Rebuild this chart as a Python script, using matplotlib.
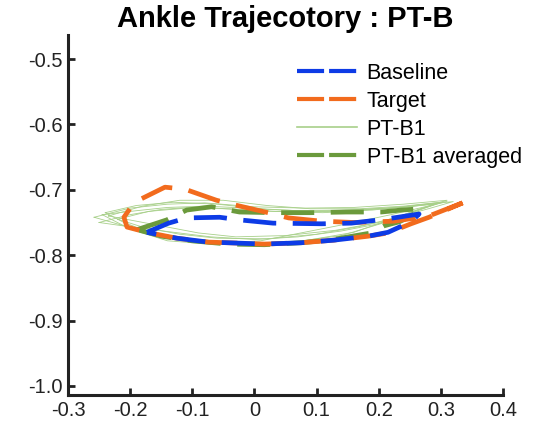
import matplotlib
matplotlib.use("Agg")
from matplotlib import pyplot as plt
from matplotlib.lines import Line2D

plt.rcParams["font.family"] = ["Liberation Sans", "DejaVu Sans"]

# baseline loop (closed)
base_x = [-0.173, -0.138, -0.109, -0.056, -0.024, 0.030, 0.108, 0.156, 0.201, 0.231, 0.265,
          0.252, 0.215, 0.183, 0.128, 0.075, 0.016, -0.042, -0.074, -0.125, -0.173]
base_y = [-0.765, -0.751, -0.743, -0.742, -0.746, -0.751, -0.752, -0.751, -0.746, -0.742, -0.737,
          -0.749, -0.765, -0.771, -0.777, -0.781, -0.783, -0.781, -0.780, -0.774, -0.765]

# target loop
targ_x = [0.335, 0.281, 0.225, 0.160, 0.108, 0.055, 0.022, -0.032, -0.061, -0.112, -0.144, -0.193,
          -0.210, -0.205, -0.173, -0.125, -0.074, -0.042, 0.016, 0.075, 0.128, 0.183, 0.215, 0.252, 0.281, 0.335]
targ_y = [-0.720, -0.740, -0.748, -0.750, -0.748, -0.743, -0.735, -0.723, -0.716, -0.699, -0.696, -0.719,
          -0.742, -0.757, -0.765, -0.774, -0.780, -0.781, -0.783, -0.781, -0.777, -0.771, -0.766, -0.752, -0.742, -0.720]

# PT-B1 averaged loop
avg_x = [-0.189, -0.141, -0.109, -0.069, -0.024, 0.032, 0.091, 0.148, 0.204, 0.236, 0.268,
         0.252, 0.233, 0.209, 0.188, 0.120, 0.075, 0.016, -0.042, -0.101, -0.149, -0.189]
avg_y = [-0.761, -0.746, -0.731, -0.726, -0.734, -0.735, -0.735, -0.734, -0.734, -0.731, -0.729,
         -0.740, -0.749, -0.755, -0.766, -0.777, -0.781, -0.784, -0.783, -0.778, -0.771, -0.761]

# PT-B1 individual trials
t1_x = [-0.258, -0.20, -0.14, -0.08, 0.00, 0.08, 0.16, 0.24, 0.31, 0.27, 0.22, 0.16, 0.08, 0.00, -0.08, -0.15, -0.21, -0.258]
t1_y = [-0.742, -0.728, -0.722, -0.720, -0.726, -0.728, -0.727, -0.722, -0.716, -0.728, -0.745, -0.765, -0.778, -0.782, -0.778, -0.768, -0.755, -0.742]
t2_x = [-0.240, -0.19, -0.13, -0.06, 0.02, 0.10, 0.18, 0.25, 0.30, 0.26, 0.21, 0.14, 0.06, -0.02, -0.10, -0.16, -0.21, -0.240]
t2_y = [-0.735, -0.724, -0.719, -0.722, -0.730, -0.733, -0.730, -0.726, -0.720, -0.732, -0.750, -0.770, -0.780, -0.784, -0.779, -0.768, -0.750, -0.735]
t3_x = [-0.250, -0.20, -0.15, -0.09, -0.02, 0.06, 0.14, 0.22, 0.29, 0.25, 0.20, 0.14, 0.07, 0.00, -0.07, -0.13, -0.19, -0.250]
t3_y = [-0.750, -0.738, -0.730, -0.726, -0.731, -0.734, -0.733, -0.728, -0.722, -0.735, -0.752, -0.763, -0.772, -0.776, -0.772, -0.765, -0.758, -0.750]
t4_x = [-0.220, -0.17, -0.11, -0.04, 0.03, 0.11, 0.19, 0.26, 0.32, 0.28, 0.23, 0.17, 0.10, 0.02, -0.06, -0.12, -0.18, -0.220]
t4_y = [-0.745, -0.733, -0.728, -0.729, -0.733, -0.735, -0.731, -0.724, -0.718, -0.729, -0.742, -0.756, -0.768, -0.775, -0.774, -0.768, -0.757, -0.745]
t5_x = [-0.235, -0.18, -0.12, -0.05, 0.02, 0.09, 0.17, 0.24, 0.30, 0.26, 0.20, 0.13, 0.05, -0.03, -0.09, -0.14, -0.19, -0.235]
t5_y = [-0.740, -0.725, -0.716, -0.716, -0.724, -0.729, -0.729, -0.725, -0.719, -0.733, -0.750, -0.762, -0.770, -0.772, -0.766, -0.757, -0.748, -0.740]
t6_x = [-0.245, -0.19, -0.14, -0.08, -0.01, 0.07, 0.15, 0.23, 0.31, 0.27, 0.22, 0.15, 0.08, 0.01, -0.07, -0.14, -0.20, -0.245]
t6_y = [-0.738, -0.732, -0.727, -0.725, -0.728, -0.732, -0.731, -0.727, -0.718, -0.727, -0.738, -0.752, -0.765, -0.778, -0.783, -0.778, -0.760, -0.738]
trials = [(t1_x, t1_y), (t2_x, t2_y), (t3_x, t3_y), (t4_x, t4_y), (t5_x, t5_y), (t6_x, t6_y)]

xticks = [-0.3, -0.2, -0.1, 0, 0.1, 0.2, 0.3, 0.4]
xlabels = ["-0.3", "-0.2", "-0.1", "0", "0.1", "0.2", "0.3", "0.4"]
yticks = [-1.0, -0.9, -0.8, -0.7, -0.6, -0.5]
ylabels = ["-1.0", "-0.9", "-0.8", "-0.7", "-0.6", "-0.5"]

blue = "#0d3be6"
orange = "#f26b1d"
dgreen = "#6b9a3c"
lgreen = "#a8d08a"

fig = plt.figure(figsize=(5.47, 4.26), dpi=100)
ax = fig.add_axes([0.1243, 0.0728, 0.7952, 0.8450])

for tx, ty in trials:
    ax.plot(tx, ty, color=lgreen, lw=0.6, zorder=1)
ax.plot(avg_x, avg_y, color=dgreen, lw=3.4, dashes=(7, 3.5), zorder=2)
ax.plot(targ_x, targ_y, color=orange, lw=3.4, dashes=(7, 3.5), zorder=3)
ax.plot(base_x, base_y, color=blue, lw=3.4, dashes=(7, 3.5), zorder=4)

ax.set_xlim(-0.3, 0.4)
ax.set_ylim(-1.0138, -0.4633)
ax.set_xticks(xticks)
ax.set_xticklabels(xlabels)
ax.set_yticks(yticks)
ax.set_yticklabels(ylabels)
ax.tick_params(direction="in", length=5, width=2, labelsize=14.5, colors="#222222", pad=4)
for s in ["top", "right"]:
    ax.spines[s].set_visible(False)
for s in ["left", "bottom"]:
    ax.spines[s].set_linewidth(2.2)
    ax.spines[s].set_color("#222222")

ax.set_title("Ankle Trajecotory : PT-B", fontsize=21, fontweight="bold", pad=6)

hs = [Line2D([], [], color=blue, lw=3, dashes=(6.5, 1.2)),
      Line2D([], [], color=orange, lw=3, dashes=(6.5, 1.2)),
      Line2D([], [], color=lgreen, lw=1.2),
      Line2D([], [], color=dgreen, lw=3, dashes=(6.5, 1.2))]
names = ["Baseline", "Target", "PT-B1", "PT-B1 averaged"]
fig.legend(hs, names, loc="upper left", bbox_to_anchor=(297 / 547, 1 - 63 / 426),
           frameon=False, fontsize=15.5, handlelength=2.78, handletextpad=0.45,
           labelspacing=0.32, borderpad=0, borderaxespad=0)

fig.savefig("out.png", dpi=100)
